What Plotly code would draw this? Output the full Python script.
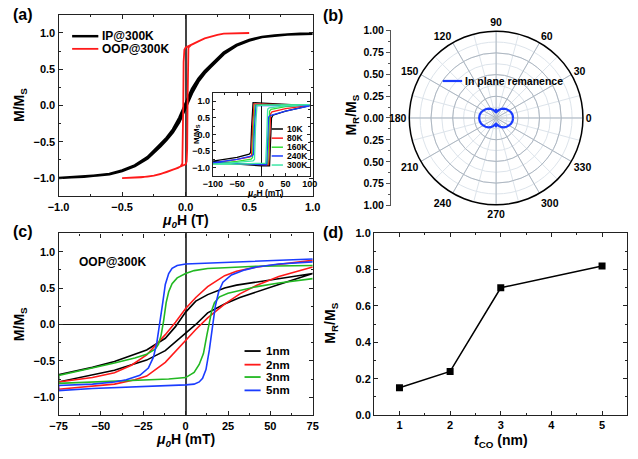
import plotly.graph_objects as go

W, H = 638, 459
FONT = "Liberation Sans"

def px(x):
    return x / W

def py(y):
    return 1 - y / H

# ---------------- data: panel (a) main ----------------
ip_H_desc = [1.0, 0.9, 0.8, 0.7, 0.6, 0.5, 0.4, 0.3, 0.2, 0.15, 0.1, 0.05, 0.0,
             -0.05, -0.1, -0.15, -0.2, -0.3, -0.4, -0.5, -0.6, -0.7, -0.8, -0.9, -1.0]
ip_M_desc = [0.99, 0.988, 0.98, 0.966, 0.946, 0.905, 0.835, 0.73, 0.565, 0.475, 0.37, 0.23, 0.03,
             -0.17, -0.33, -0.445, -0.535, -0.71, -0.825, -0.895, -0.944, -0.966, -0.982, -0.99, -1.0]
ip_H_asc = [-1.0, -0.9, -0.8, -0.7, -0.6, -0.5, -0.4, -0.3, -0.2, -0.15, -0.1, -0.05, 0.0,
            0.05, 0.1, 0.15, 0.2, 0.3, 0.4, 0.5, 0.6, 0.7, 0.8, 0.9, 1.0]
ip_M_asc = [-1.0, -0.99, -0.982, -0.966, -0.946, -0.905, -0.835, -0.73, -0.565, -0.475, -0.37, -0.23, -0.03,
            0.17, 0.33, 0.445, 0.535, 0.71, 0.825, 0.895, 0.944, 0.966, 0.98, 0.988, 0.99]

oop_H_desc = [0.5, 0.45, 0.4, 0.35, 0.3, 0.25, 0.2, 0.15, 0.1, 0.05, 0.02, 0.0, -0.01, -0.016,
              -0.019, -0.022, -0.026, -0.04, -0.06, -0.1, -0.15, -0.2, -0.25, -0.3, -0.35, -0.4, -0.45, -0.5]
oop_M_desc = [1.0, 1.0, 1.0, 0.995, 0.99, 0.975, 0.955, 0.925, 0.885, 0.845, 0.82, 0.80, 0.77, 0.6,
              0.0, -0.6, -0.8, -0.84, -0.86, -0.885, -0.92, -0.945, -0.965, -0.98, -0.99, -0.995, -1.0, -1.0]
oop_H_asc = [-0.5, -0.45, -0.4, -0.35, -0.3, -0.25, -0.2, -0.15, -0.1, -0.05, -0.02, 0.0, 0.008, 0.012,
             0.015, 0.018, 0.022, 0.04, 0.06, 0.1, 0.15, 0.2, 0.25, 0.3, 0.35, 0.4, 0.45, 0.5]
oop_M_asc = [-1.0, -1.0, -0.995, -0.99, -0.98, -0.965, -0.945, -0.92, -0.885, -0.85, -0.83, -0.81, -0.77, -0.6,
             0.0, 0.6, 0.8, 0.83, 0.85, 0.885, 0.925, 0.955, 0.975, 0.99, 0.995, 1.0, 1.0, 1.0]

# ---------------- data: panel (a) inset ----------------
inset_labels = ["10K", "80K", "160K", "240K", "300K"]
inset_colors = ["#000000", "#ff1a1a", "#33dd33", "#1a3cff", "#3ee6a6"]
inset_H_desc = [
    [100, 50, 0, -17, -20, -22, -25, -50, -100],
    [100, 50, 0, -15, -18, -20, -23, -50, -100],
    [100, 50, 0, -13, -16, -18, -21, -50, -100],
    [100, 50, 0, -11, -14, -16, -19, -50, -100],
    [100, 50, 0, -9, -12, -14, -17, -50, -100],
]
inset_M_desc = [
    [0.87, 0.91, 0.96, 0.96, 0.2, -0.55, -0.6, -0.7, -0.81],
    [0.88, 0.90, 0.92, 0.92, 0.2, -0.62, -0.68, -0.76, -0.87],
    [0.90, 0.90, 0.90, 0.89, 0.2, -0.7, -0.75, -0.82, -0.89],
    [0.87, 0.88, 0.89, 0.88, 0.2, -0.6, -0.65, -0.76, -0.86],
    [0.90, 0.90, 0.88, 0.87, 0.2, -0.76, -0.8, -0.85, -0.9],
]
inset_H_asc = [
    [-100, -50, 0, 17, 19, 21, 24, 50, 100],
    [-100, -50, 0, 15, 17, 19, 22, 50, 100],
    [-100, -50, 0, 13, 15, 17, 20, 50, 100],
    [-100, -50, 0, 11, 13, 15, 18, 50, 100],
    [-100, -50, 0, 9, 11, 13, 16, 50, 100],
]
inset_M_asc = [
    [-0.81, -0.9, -0.95, -0.95, -0.2, 0.5, 0.58, 0.7, 0.87],
    [-0.87, -0.9, -0.92, -0.92, -0.2, 0.62, 0.68, 0.78, 0.88],
    [-0.89, -0.9, -0.9, -0.89, -0.2, 0.7, 0.76, 0.84, 0.9],
    [-0.86, -0.88, -0.92, -0.92, -0.2, 0.52, 0.57, 0.7, 0.86],
    [-0.9, -0.9, -0.88, -0.87, -0.2, 0.76, 0.8, 0.86, 0.9],
]

# ---------------- data: panel (b) polar ----------------
theta_deg = [0, 10, 20, 30, 40, 50, 60, 70, 80, 85, 88, 90, 92, 95, 100, 110, 120, 130, 140, 150, 160, 170,
             180, 190, 200, 210, 220, 230, 240, 250, 260, 265, 268, 270, 272, 275, 280, 290, 300, 310, 320,
             330, 340, 350, 360]
remanence = [0.195, 0.193, 0.185, 0.172, 0.158, 0.14, 0.122, 0.1, 0.076, 0.07, 0.088, 0.105, 0.088, 0.07,
             0.076, 0.1, 0.122, 0.14, 0.158, 0.172, 0.185, 0.193,
             0.195, 0.193, 0.185, 0.172, 0.158, 0.14, 0.122, 0.1, 0.076, 0.07, 0.088, 0.103, 0.088, 0.07,
             0.076, 0.1, 0.122, 0.14, 0.158, 0.172, 0.185, 0.193, 0.195]
angle_ticks = [0, 30, 60, 90, 120, 150, 180, 210, 240, 270, 300, 330]
radial_ticks = [-1, -0.75, -0.5, -0.25, 0, 0.25, 0.5, 0.75, 1]
radial_ticktext = ["1.00", "0.75", "0.50", "0.25", "0.00", "0.25", "0.50", "0.75", "1.00"]

# ---------------- data: panel (c) ----------------
c_labels = ["1nm", "2nm", "3nm", "5nm"]
c_colors = ["#000000", "#ff1a1a", "#22b822", "#1a3cff"]
c_H_desc = [
    [75, 60, 42, 30, 23, 13, 6, 0, -6, -12, -23, -32, -42, -55, -75],
    [75, 60, 42, 30, 23, 13, 6, 0, -6, -12, -23, -32, -42, -55, -75],
    [75, 55, 42, 23, 13, 5, 0, -5, -8, -10, -11.5, -13, -14.5, -16, -18, -23, -30, -42, -55, -75],
    [75, 55, 42, 25, 10, 0, -5, -8, -10, -12, -13.5, -15.5, -17, -19, -22, -27, -35, -42, -55, -75],
]
c_M_desc = [
    [0.70, 0.65, 0.59, 0.54, 0.50, 0.41, 0.32, 0.17, -0.03, -0.19, -0.35, -0.43, -0.51, -0.59, -0.69],
    [0.88, 0.84, 0.79, 0.73, 0.67, 0.52, 0.37, 0.22, 0.03, -0.14, -0.42, -0.56, -0.665, -0.73, -0.79],
    [0.81, 0.80, 0.80, 0.78, 0.77, 0.74, 0.70, 0.64, 0.56, 0.45, 0.30, 0.05, -0.15, -0.27, -0.34, -0.41,
     -0.46, -0.53, -0.60, -0.70],
    [0.90, 0.88, 0.87, 0.85, 0.84, 0.83, 0.81, 0.77, 0.70, 0.55, 0.30, 0.0, -0.25, -0.45, -0.60, -0.70,
     -0.76, -0.79, -0.82, -0.84],
]
c_H_asc = [
    [-75, -60, -42, -30, -23, -12, -6, 0, 6, 13, 23, 32, 42, 55, 75],
    [-75, -60, -42, -30, -23, -12, -6, 0, 6, 13, 23, 32, 42, 55, 75],
    [-75, -50, -25, -10, 0, 5, 8, 10.5, 12.5, 14, 15.5, 17, 20, 25, 33, 42, 55, 75],
    [-75, -55, -42, -25, -10, 0, 5, 8, 10, 12, 14, 16, 17.5, 19.5, 22, 27, 35, 42, 55, 75],
]
c_M_asc = [
    [-0.79, -0.72, -0.63, -0.54, -0.49, -0.36, -0.24, -0.12, 0.0, 0.16, 0.28, 0.37, 0.45, 0.55, 0.70],
    [-0.89, -0.86, -0.82, -0.76, -0.71, -0.52, -0.37, -0.22, -0.07, 0.09, 0.28, 0.42, 0.54, 0.66, 0.79],
    [-0.81, -0.79, -0.77, -0.75, -0.73, -0.66, -0.55, -0.40, -0.15, 0.05, 0.2, 0.3, 0.38, 0.43, 0.47,
     0.52, 0.57, 0.63],
    [-0.91, -0.88, -0.87, -0.85, -0.84, -0.83, -0.82, -0.79, -0.74, -0.62, -0.35, 0.0, 0.25, 0.45, 0.58,
     0.68, 0.75, 0.79, 0.83, 0.86],
]

# ---------------- data: panel (d) ----------------
t_co = [1, 2, 3, 5]
mr_ms = [0.15, 0.24, 0.70, 0.82]

# ---------------- figure ----------------
fig = go.Figure()

# panel (a)
fig.add_trace(go.Scatter(x=ip_H_desc + ip_H_asc, y=ip_M_desc + ip_M_asc, mode="lines",
                         line=dict(color="black", width=2.5), xaxis="x", yaxis="y", showlegend=False))
fig.add_trace(go.Scatter(x=oop_H_desc + oop_H_asc, y=oop_M_desc + oop_M_asc, mode="lines",
                         line=dict(color="#ff1a1a", width=1.8), xaxis="x", yaxis="y", showlegend=False))
for i in range(len(inset_labels)):
    fig.add_trace(go.Scatter(x=inset_H_desc[i] + inset_H_asc[i], y=inset_M_desc[i] + inset_M_asc[i],
                             mode="lines", line=dict(color=inset_colors[i], width=1.3),
                             xaxis="x2", yaxis="y2", showlegend=False))

# panel (b)
fig.add_trace(go.Scatterpolar(r=[], theta=[], subplot="polar", showlegend=False))
fig.add_trace(go.Scatterpolar(r=remanence, theta=theta_deg, mode="lines", subplot="polar2",
                              line=dict(color="#1a3cff", width=2.2), showlegend=False))
fig.add_trace(go.Scatter(x=[None], y=[None], xaxis="x3", yaxis="y3", showlegend=False, hoverinfo="skip"))

# panel (c)
for i in range(len(c_labels)):
    fig.add_trace(go.Scatter(x=c_H_desc[i] + c_H_asc[i], y=c_M_desc[i] + c_M_asc[i], mode="lines",
                             line=dict(color=c_colors[i], width=1.6), xaxis="x4", yaxis="y4",
                             showlegend=False))

# panel (d)
fig.add_trace(go.Scatter(x=t_co, y=mr_ms, mode="lines+markers", line=dict(color="black", width=1.5),
                         marker=dict(symbol="square", size=7, color="black"), xaxis="x5", yaxis="y5",
                         showlegend=False))

tick_font = dict(family=FONT, size=11, color="black", weight="bold")
small_font = dict(family=FONT, size=9, color="black", weight="bold")


def cart(domain, rng, anchor, dtick, minor_dtick, fmt, font=tick_font, **kw):
    d = dict(domain=domain, range=rng, anchor=anchor, showgrid=False, showline=True, linecolor="#222",
             linewidth=1.3, mirror="ticks", ticks="inside", ticklen=4, tickwidth=1.2, tickcolor="#222",
             dtick=dtick, tick0=0, tickformat=fmt, tickfont=font, zeroline=False,
             minor=dict(ticks="inside", ticklen=2, dtick=minor_dtick, tick0=0, tickcolor="#222"))
    d.update(kw)
    return d

layout = dict(
    width=W, height=H, margin=dict(l=0, r=0, t=0, b=0),
    paper_bgcolor="white", plot_bgcolor="white", showlegend=False,
    xaxis=cart([px(49), px(311)], [-1, 1], "y", 0.5, 0.25, ".1f",
               zeroline=True, zerolinecolor="#444", zerolinewidth=1.5),
    yaxis=cart([py(195.3), py(9.1)], [-1.25, 1.25], "x", 0.5, 0.25, ".1f"),
    xaxis2=cart([px(208), px(308)], [-100, 100], "y2", 50, 25, "d", font=small_font,
                zeroline=True, zerolinecolor="#111", zerolinewidth=1, ticklen=3, linewidth=1),
    yaxis2=cart([py(174.2), py(89.4)], [-1.25, 1.25], "x2", 0.5, 0.25, ".1f", font=small_font,
                ticklen=3, linewidth=1),
    xaxis3=dict(domain=[px(391.7), px(392.7)], anchor="y3", visible=False, range=[0, 1]),
    yaxis3=dict(domain=[py(205), py(25)], anchor="x3", range=[-1, 1], side="left", showgrid=False,
                zeroline=False, showline=True, linecolor="#555", linewidth=1.2, ticks="outside",
                ticklen=4, tickcolor="#555", tickmode="array", tickvals=radial_ticks,
                ticktext=radial_ticktext, tickfont=dict(family=FONT, size=10.5, color="black", weight="bold"),
                minor=dict(ticks="outside", ticklen=2, dtick=0.125, tick0=0, tickcolor="#555")),
    xaxis4=cart([px(49), px(311)], [-75, 75], "y4", 25, 12.5, "d",
                zeroline=True, zerolinecolor="#444", zerolinewidth=1.5),
    yaxis4=cart([py(420.4), py(233.6)], [-1.25, 1.25], "x4", 0.5, 0.25, ".1f",
                zeroline=True, zerolinecolor="#111", zerolinewidth=1),
    xaxis5=cart([px(374.3), px(635.3)], [0.5, 5.5], "y5", 1, 0.5, "d"),
    yaxis5=cart([py(420), py(233.3)], [0, 1], "x5", 0.2, 0.1, ".1f"),
    polar=dict(domain=dict(x=[px(410.5), px(589.5)], y=[py(204.5), py(25.5)]), bgcolor="white",
               radialaxis=dict(range=[0, 1], dtick=0.125, tick0=0, showticklabels=False, ticks="",
                               showline=False, gridcolor="#dde4eb", gridwidth=1),
               angularaxis=dict(dtick=15, showticklabels=False, ticks="", gridcolor="#dde4eb",
                                showline=False)),
    polar2=dict(domain=dict(x=[px(410.5), px(589.5)], y=[py(204.5), py(25.5)]), bgcolor="rgba(0,0,0,0)",
                radialaxis=dict(range=[0, 1], dtick=0.25, tick0=0, showticklabels=False, ticks="",
                                showline=False, gridcolor="#aeb7c1", gridwidth=1),
                angularaxis=dict(tickmode="array", tickvals=angle_ticks, ticktext=[str(a) for a in angle_ticks],
                                 ticks="", gridcolor="#aeb7c1", showline=True, linecolor="black", linewidth=1.5,
                                 tickfont=dict(family=FONT, size=10.5, color="black", weight="bold"))),
)

annotations = []
shapes = []


def text(x, y, s, size, xanchor="left", angle=0):
    annotations.append(dict(x=px(x), y=py(y), xref="paper", yref="paper", text=s, showarrow=False,
                            xanchor=xanchor, yanchor="middle", textangle=angle,
                            font=dict(family=FONT, size=size, color="black", weight="bold")))


def leg_line(x0, x1, y, color, width):
    shapes.append(dict(type="line", xref="paper", yref="paper", x0=px(x0), x1=px(x1), y0=py(y), y1=py(y),
                       line=dict(color=color, width=width)))


# panel labels
text(12, 9, "(a)", 16, "center")
text(332, 10, "(b)", 16, "center")
text(12, 232, "(c)", 16, "center")
text(332, 233, "(d)", 16, "center")

# axis titles
text(180, 221, "<i>μ<sub>0</sub></i>H (T)", 14, "center")
text(10, 102, "M/M<sub>S</sub>", 14, "center", -90)
text(262, 193, "<i>μ<sub>0</sub></i>H (mT)", 8.5, "center")
text(191, 131, "M/M<sub>S</sub>", 8, "center", -90)
text(352, 112, "M<sub>R</sub>/M<sub>S</sub>", 14, "center", -90)
text(180, 446, "<i>μ<sub>0</sub></i>H (mT)", 14, "center")
text(10, 327, "M/M<sub>S</sub>", 14, "center", -90)
text(330, 326, "M<sub>R</sub>/M<sub>S</sub>", 14, "center", -90)
text(505, 447, "<i>t</i><sub>CO</sub> (nm)", 14, "center")

# legend (a)
leg_line(63, 90, 31, "black", 2.5)
text(92, 31, "IP@300K", 12)
leg_line(63, 90, 44, "#ff1a1a", 1.8)
text(92, 44, "OOP@300K", 12)

# legend inset
inset_leg_y = [126.3, 135.7, 145, 154, 163.3]
for i in range(len(inset_labels)):
    leg_line(268.7, 280.3, inset_leg_y[i], inset_colors[i], 1.5)
    text(282, inset_leg_y[i], inset_labels[i], 8.5)

# legend (b)
leg_line(445, 465, 77, "#1a3cff", 2.2)
text(466, 77, "In plane remanence", 10.5)

# panel (c) text + legend
text(104.7, 263, "OOP@300K", 12, "center")
c_leg_y = [354.3, 368.3, 381, 394.7]
for i in range(len(c_labels)):
    leg_line(240.7, 257.3, c_leg_y[i], c_colors[i], 1.8)
    text(261, c_leg_y[i], c_labels[i], 11.5)

layout["annotations"] = annotations
layout["shapes"] = shapes
fig.update_layout(**layout)

fig.write_html("out.html")
